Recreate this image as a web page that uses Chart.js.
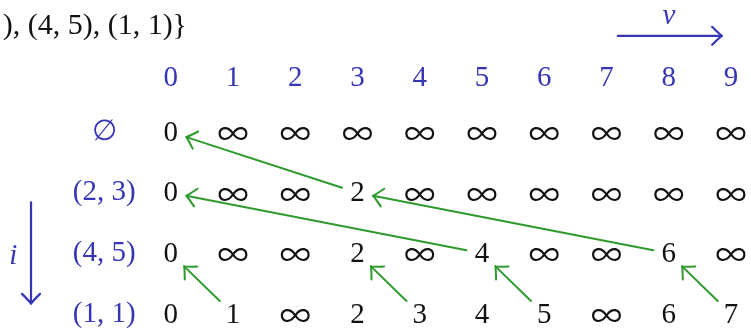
<!DOCTYPE html>
<html lang="en">
<head>
<meta charset="UTF-8">
<title>Knapsack DP table</title>
<script src="https://cdn.jsdelivr.net/npm/chart.js"></script>
<style>html,body{margin:0;padding:0;background:#fff;overflow:hidden}</style>
</head>
<body>
<canvas id="dpChart" width="751" height="331"></canvas>
<script>
// table data
const INF = Infinity;
const columns = [0, 1, 2, 3, 4, 5, 6, 7, 8, 9];
const rowLabels = ['\u2205', '(2, 3)', '(4, 5)', '(1, 1)'];
const rowEmpty = [0, INF, INF, INF, INF, INF, INF, INF, INF, INF];
const row23 = [0, INF, INF, 2, INF, INF, INF, INF, INF, INF];
const row45 = [0, INF, INF, 2, INF, 4, INF, INF, 6, INF];
const row11 = [0, 1, INF, 2, 3, 4, 5, INF, 6, 7];
const rows = [rowEmpty, row23, row45, row11];
// back-pointers: [row, column] -> [row, column]
const arrowFrom = [[1, 3], [2, 5], [2, 8], [3, 1], [3, 4], [3, 6], [3, 9]];
const arrowTo = [[0, 0], [1, 0], [1, 3], [2, 0], [2, 3], [2, 5], [2, 8]];
const itemsText = '), (4, 5), (1, 1)}';

const BLUE = '#3535b5';
const GREEN = '#2e9a2e';
const FONT = '"Liberation Serif", "DejaVu Serif", serif';
const INF_FONT = '"Noto Sans CJK SC", "Liberation Serif", serif';

const cells = [];
rows.forEach((vals, r) => vals.forEach((v, c) => cells.push({x: columns[c], y: r, v: v})));

function drawTip(ctx, px, py, ux, uy, len) {
	// open latex-style arrow tip
	const nx = -uy, ny = ux;
	ctx.beginPath();
	[1, -1].forEach(s => {
		ctx.moveTo(px - ux * len * 0.8 + nx * len * 0.75 * s, py - uy * len * 0.8 + ny * len * 0.75 * s);
		ctx.quadraticCurveTo(px - ux * len * 0.2 + nx * len * 0.15 * s, py - uy * len * 0.2 + ny * len * 0.15 * s, px, py);
	});
	ctx.stroke();
}

function noPad(s) {
	s.paddingTop = 0; s.paddingBottom = 0; s.paddingLeft = 0; s.paddingRight = 0;
}

const tablePlugin = {
	id: 'tablePlugin',
	afterDatasetsDraw(chart) {
		const ctx = chart.ctx;
		const xs = chart.scales.x, ys = chart.scales.y;
		ctx.save();
		ctx.textAlign = 'center';
		ctx.textBaseline = 'middle';
		// cell values
		chart.getDatasetMeta(0).data.forEach((pt, i) => {
			const v = cells[i].v;
			ctx.fillStyle = '#111';
			if (v === INF) {
				ctx.font = '31px ' + INF_FONT;
				ctx.fillText('\u221E', pt.x, pt.y + 1);
			} else {
				ctx.font = '29px ' + FONT;
				ctx.fillText(String(v), pt.x, pt.y + 1);
			}
		});
		// green back-pointer arrows
		const hw = 15.5, hh = 13;
		ctx.strokeStyle = GREEN;
		ctx.lineWidth = 2;
		ctx.lineCap = 'round';
		arrowFrom.forEach((f, i) => {
			const t = arrowTo[i];
			const x0 = xs.getPixelForValue(columns[f[1]]), y0 = ys.getPixelForValue(f[0]);
			const x1 = xs.getPixelForValue(columns[t[1]]), y1 = ys.getPixelForValue(t[0]);
			const d = Math.hypot(x1 - x0, y1 - y0);
			const ux = (x1 - x0) / d, uy = (y1 - y0) / d;
			const k = Math.min(hw / Math.abs(ux), hh / Math.abs(uy));
			const sx = x0 + ux * k, sy = y0 + uy * k;
			const ex = x1 - ux * k, ey = y1 - uy * k;
			ctx.beginPath();
			ctx.moveTo(sx, sy);
			ctx.lineTo(ex, ey);
			ctx.stroke();
			drawTip(ctx, ex, ey, ux, uy, 12);
		});
		ctx.restore();
	},
	afterDraw(chart) {
		const ctx = chart.ctx;
		const xs = chart.scales.x, ys = chart.scales.y;
		ctx.save();
		// items set (cut at the left edge)
		ctx.fillStyle = '#111';
		ctx.font = '30px ' + FONT;
		ctx.textAlign = 'right';
		ctx.textBaseline = 'middle';
		ctx.fillText(itemsText, xs.getPixelForValue(0.26), ys.getPixelForValue(-1.75));
		// v axis arrow
		ctx.strokeStyle = BLUE;
		ctx.fillStyle = BLUE;
		ctx.lineWidth = 2.2;
		ctx.lineCap = 'round';
		const va = xs.getPixelForValue(7.18), vb = xs.getPixelForValue(8.85), vy = ys.getPixelForValue(-1.587);
		ctx.beginPath(); ctx.moveTo(va, vy); ctx.lineTo(vb, vy); ctx.stroke();
		drawTip(ctx, vb, vy, 1, 0, 12);
		ctx.font = 'italic 29px ' + FONT;
		ctx.textAlign = 'center';
		ctx.fillText('v', xs.getPixelForValue(8.0), ys.getPixelForValue(-1.9));
		// i axis arrow
		const ix = xs.getPixelForValue(-2.246), ia = ys.getPixelForValue(1.157), ib = ys.getPixelForValue(2.826);
		ctx.beginPath(); ctx.moveTo(ix, ia); ctx.lineTo(ix, ib); ctx.stroke();
		drawTip(ctx, ix, ib, 0, 1, 12);
		ctx.fillText('i', xs.getPixelForValue(-2.53), ys.getPixelForValue(2.05));
		ctx.restore();
	}
};

const ctx = document.getElementById('dpChart').getContext('2d');
const dpChart = new Chart(ctx, {
	type: 'scatter',
	data: {
		datasets: [{
			data: cells,
			pointRadius: 0,
			pointHoverRadius: 0
		}]
	},
	options: {
		responsive: false,
		animation: false,
		events: [],
		layout: {padding: 0},
		plugins: {legend: {display: false}, tooltip: {enabled: false}},
		scales: {
			x: {
				type: 'linear',
				position: 'top',
				min: -0.55,
				max: 9.32,
				afterBuildTicks: s => { s.ticks = columns.map(v => ({value: v})); },
				afterFit: s => { s.height = 101.75; noPad(s); },
				grid: {display: false, drawTicks: false},
				border: {display: false},
				ticks: {
					color: BLUE,
					font: {family: FONT, size: 29},
					padding: 6,
					autoSkip: false,
					maxRotation: 0,
					callback: v => String(v)
				}
			},
			y: {
				type: 'linear',
				reverse: true,
				min: -0.5,
				max: 3.28,
				afterBuildTicks: s => { s.ticks = rowLabels.map((l, i) => ({value: i})); },
				afterFit: s => { s.width = 136.6; noPad(s); },
				grid: {display: false, drawTicks: false},
				border: {display: false},
				ticks: {
					color: BLUE,
					font: {family: FONT, size: 29},
					padding: 1,
					crossAlign: 'center',
					autoSkip: false,
					callback: v => rowLabels[v]
				}
			}
		}
	},
	plugins: [tablePlugin]
});
</script>
</body>
</html>
